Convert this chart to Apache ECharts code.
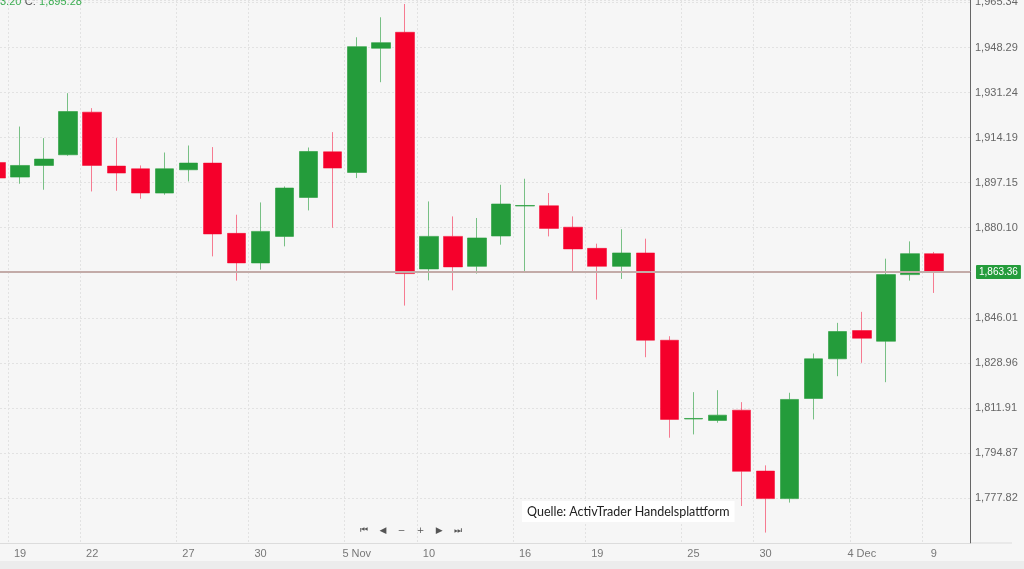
<!DOCTYPE html>
<html>
<head>
<meta charset="utf-8">
<script src="https://cdn.jsdelivr.net/npm/echarts@6/dist/echarts.min.js"></script>
<style>
html,body{margin:0;padding:0;background:#f6f6f6;}
#chart{width:1024px;height:569px;}
</style>
</head>
<body>
<div id="chart"></div>
<script>
// Trading days (last one is an empty future slot)
const categories = [
  '2020-10-16','2020-10-19','2020-10-20','2020-10-21','2020-10-22','2020-10-23','2020-10-25','2020-10-26',
  '2020-10-27','2020-10-28','2020-10-29','2020-10-30','2020-11-02','2020-11-03','2020-11-04','2020-11-05',
  '2020-11-06','2020-11-09','2020-11-10','2020-11-11','2020-11-12','2020-11-13','2020-11-16','2020-11-17',
  '2020-11-18','2020-11-19','2020-11-20','2020-11-23','2020-11-24','2020-11-25','2020-11-26','2020-11-27',
  '2020-11-30','2020-12-01','2020-12-02','2020-12-03','2020-12-04','2020-12-07','2020-12-08','2020-12-09',
  '2020-12-10'
];
const opens  = [1904.78,1899.26,1903.65,1907.69,1923.83,1903.42,1902.40,1893.21,1902.02,1904.55,1877.95,1866.76,1876.81,1891.55,1908.82,1901.00,1948.01,1954.06,1864.49,1876.81,1865.47,1876.96,1888.30,1888.41,1880.29,1872.28,1865.47,1870.54,1837.51,1807.70,1807.16,1811.05,1788.00,1777.57,1815.47,1830.48,1841.17,1837.13,1862.34,1870.27];
const closes = [1898.88,1903.65,1906.06,1924.05,1903.65,1900.77,1893.21,1902.40,1904.55,1877.72,1866.76,1878.70,1895.10,1908.94,1902.66,1948.62,1950.13,1862.72,1876.81,1865.25,1876.21,1889.06,1888.50,1879.84,1872.05,1865.47,1870.54,1837.51,1807.54,1807.90,1809.16,1787.89,1777.57,1815.10,1830.48,1840.80,1838.26,1862.34,1870.27,1863.36];
const lows   = [1897.48,1896.73,1894.46,1907.31,1893.82,1894.08,1891.06,1892.57,1897.60,1869.25,1860.07,1864.23,1873.03,1886.64,1880.10,1898.88,1935.16,1850.62,1860.18,1856.40,1862.72,1873.68,1863.58,1876.81,1863.58,1852.89,1860.71,1831.08,1800.62,1801.87,1806.29,1774.77,1764.72,1776.06,1807.54,1823.90,1828.97,1821.63,1860.07,1855.42];
const highs  = [1906.55,1918.38,1914.00,1931.01,1925.34,1914.00,1903.65,1908.56,1911.20,1910.60,1885.01,1889.66,1895.71,1910.45,1916.27,1952.17,1959.73,1964.76,1890.04,1884.37,1883.77,1896.35,1898.62,1893.21,1884.37,1874.05,1879.53,1875.94,1839.02,1817.86,1818.61,1814.08,1790.15,1817.63,1832.48,1844.08,1848.24,1868.38,1874.92,1870.92];

const xTickDates  = ['2020-10-19','2020-10-22','2020-10-27','2020-10-30','2020-11-05','2020-11-10','2020-11-16','2020-11-19','2020-11-25','2020-11-30','2020-12-04','2020-12-09'];
const xTickLabels = ['19','22','27','30','5 Nov','10','16','19','25','30','4 Dec','9'];

const yMin = 1760.773, yMax = 1966.27, yStep = 17.047;
const yTickLabels = ['', '1,777.82','1,794.87','1,811.91','1,828.96','1,846.01','','1,880.10','1,897.15','1,914.19','1,931.24','1,948.29','1,965.34'];

const currentPrice = 1863.36;
const currentPriceLabel = '1,863.36';

const GREEN = '#249c3b', RED = '#f5002b';

const ohlc = opens.map((o, i) => [o, closes[i], lows[i], highs[i]]);

const chart = echarts.init(document.getElementById('chart'), null, {renderer: 'canvas'});
const isTick = (idx) => xTickDates.indexOf(categories[idx]) >= 0;

chart.setOption({
  animation: false,
  backgroundColor: '#f6f6f6',
  grid: {left: -16, right: 54, top: 0, bottom: 26, containLabel: false, outerBoundsMode: 'none'},
  xAxis: {
    type: 'category',
    data: categories,
    boundaryGap: true,
    axisLine: {show: true, lineStyle: {color: '#dcdcdc', width: 1}},
    axisTick: {show: false},
    axisLabel: {
      interval: (idx) => isTick(idx),
      formatter: (v) => { const k = xTickDates.indexOf(v); return k >= 0 ? xTickLabels[k] : ''; },
      color: '#777', fontSize: 11, fontFamily: 'Liberation Sans', margin: 5
    },
    splitLine: {show: true, interval: (idx) => isTick(idx), lineStyle: {color: '#e2e2e2', type: [2, 2], width: 1}}
  },
  yAxis: {
    type: 'value',
    position: 'right',
    min: yMin, max: yMax, interval: yStep,
    axisLine: {show: true, lineStyle: {color: '#666', width: 1}},
    axisTick: {show: false},
    axisLabel: {
      formatter: (v) => {
        const k = Math.round((v - yMin) / yStep);
        if (Math.abs(v - (yMin + k * yStep)) > 0.01) return '';
        return yTickLabels[k] || '';
      },
      color: '#666', fontSize: 11, fontFamily: 'Liberation Sans', margin: 5, align: 'left'
    },
    splitLine: {show: true, lineStyle: {color: '#e2e2e2', type: [2, 2], width: 1}}
  },
  series: [{
    type: 'candlestick',
    data: ohlc,
    barWidth: 19,
    itemStyle: {
      color: GREEN, color0: RED,
      borderColor: 'rgba(36,156,59,0.6)', borderColor0: 'rgba(245,0,43,0.5)',
      borderWidth: 1
    },
    markLine: {
      silent: true,
      symbol: ['none', 'none'],
      lineStyle: {color: '#c3aba8', width: 2, type: 'solid'},
      label: {
        show: true, position: 'end', formatter: currentPriceLabel,
        color: '#fff', backgroundColor: GREEN, fontSize: 10, fontFamily: 'Liberation Sans',
        padding: [2, 3, 2, 3], distance: 6, borderRadius: 1
      },
      data: [{yAxis: currentPrice}]
    }
  }],
  graphic: [
    {type: 'text', left: 0, top: -4, z: 10, style: {
      text: '{g|3.20} {k|C:} {g|1,895.28}',
      rich: {g: {fill: '#3cae52', fontSize: 11, fontFamily: 'Liberation Sans'}, k: {fill: '#555', fontSize: 11, fontFamily: 'Liberation Sans'}}
    }},
    {type: 'text', left: 522, top: 501, z: 10, style: {
      text: 'Quelle: ActivTrader Handelsplattform', fill: '#222', fontSize: 12.5, fontFamily: 'Lato',
      backgroundColor: '#ffffff', padding: [4, 5, 4, 5]
    }},
    {type: 'text', left: 360, top: 526, z: 10, style: {
      text: '⏮    ◀    −    +    ▶    ⏭', fill: '#555', fontSize: 9, fontFamily: 'DejaVu Sans'
    }},
    {type: 'rect', shape: {x: 0, y: 561, width: 1024, height: 8}, style: {fill: '#ececec'}, z: -1},
    {type: 'line', shape: {x1: 970, y1: 543, x2: 1012, y2: 543}, style: {stroke: '#dcdcdc', lineWidth: 1}}
  ]
});
</script>
</body>
</html>
